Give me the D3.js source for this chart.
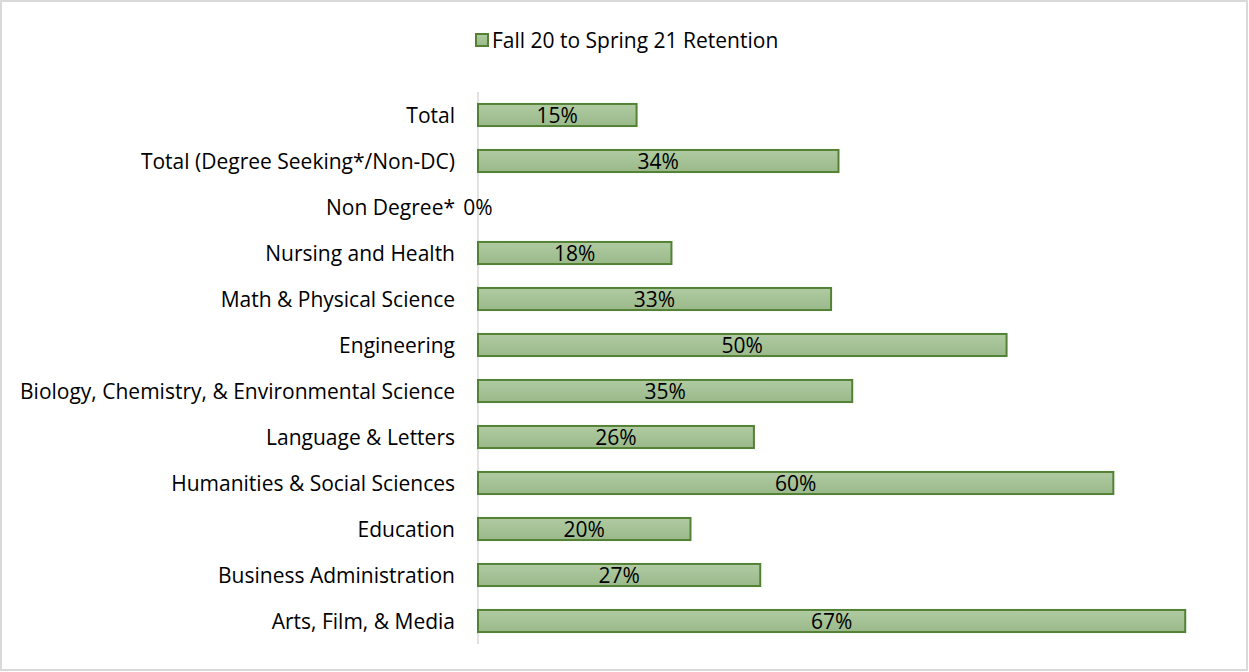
<!DOCTYPE html>
<html lang="en">
<head>
<meta charset="UTF-8">
<title>Fall 20 to Spring 21 Retention</title>
<script src="https://cdnjs.cloudflare.com/ajax/libs/d3/7.8.5/d3.min.js"></script>
<style>
    html, body { margin: 0; padding: 0; background: #fff; }
    svg { display: block; font-family: "Open Sans", sans-serif; }
</style>
</head>
<body>
<svg id="chart" width="1249" height="672"></svg>
<script>
    // categories top to bottom, as in the chart
    const categories = [
        "Total",
        "Total (Degree Seeking*/Non-DC)",
        "Non Degree*",
        "Nursing and Health",
        "Math & Physical Science",
        "Engineering",
        "Biology, Chemistry, & Environmental Science",
        "Language & Letters",
        "Humanities & Social Sciences",
        "Education",
        "Business Administration",
        "Arts, Film, & Media"
    ];
    // labels show them rounded
    const retention = [0.150, 0.341, 0, 0.183, 0.334, 0.500, 0.354, 0.261, 0.601, 0.201, 0.267, 0.669];
    const seriesName = "Fall 20 to Spring 21 Retention";

    const W = 1249, H = 672;
    const fontSize = 21;
    const svg = d3.select("#chart");

    // outer chart border
    svg.append("rect")
        .attr("x", 1).attr("y", 1)
        .attr("width", W - 3).attr("height", H - 3)
        .attr("fill", "#fff")
        .attr("stroke", "#d9d9d9")
        .attr("stroke-width", 2);

    const defs = svg.append("defs");
    const grad = defs.append("linearGradient")
        .attr("id", "barFill")
        .attr("x1", 0).attr("y1", 0).attr("x2", 0).attr("y2", 1);
    grad.append("stop").attr("offset", "0%").attr("stop-color", "#b0cba2");
    grad.append("stop").attr("offset", "100%").attr("stop-color", "#9ab98a");

    const x = d3.scaleLinear().domain([0, 0.7]).range([478, 1218]);
    const y = d3.scaleBand().domain(categories).range([92, 644]).paddingInner(0.52).paddingOuter(0.26);

    // vertical category axis line
    svg.append("line")
        .attr("x1", x(0)).attr("x2", x(0))
        .attr("y1", 92).attr("y2", 644)
        .attr("stroke", "#d9d9d9")
        .attr("stroke-width", 1.5);

    const rows = categories.map((c, i) => ({ cat: c, val: retention[i] }));

    svg.append("g")
        .selectAll("rect")
        .data(rows.filter(d => d.val > 0))
        .join("rect")
        .attr("x", x(0))
        .attr("y", d => y(d.cat))
        .attr("width", d => x(d.val) - x(0))
        .attr("height", y.bandwidth())
        .attr("fill", "url(#barFill)")
        .attr("stroke", "#548235")
        .attr("stroke-width", 2);

    // data labels
    svg.append("g")
        .selectAll("text")
        .data(rows)
        .join("text")
        .attr("x", d => (x(0) + x(d.val)) / 2)
        .attr("y", d => y(d.cat) + y.bandwidth() / 2)
        .attr("dy", "0.36em")
        .attr("text-anchor", "middle")
        .attr("font-size", fontSize)
        .attr("fill", "#000")
        .text(d => d3.format(".0%")(d.val));

    // category labels
    svg.append("g")
        .selectAll("text")
        .data(categories)
        .join("text")
        .attr("x", 455)
        .attr("y", d => y(d) + y.bandwidth() / 2)
        .attr("dy", "0.36em")
        .attr("text-anchor", "end")
        .attr("font-size", fontSize)
        .attr("fill", "#000")
        .text(d => d);

    // legend
    const legend = svg.append("g");
    legend.append("rect")
        .attr("x", 476).attr("y", 34)
        .attr("width", 12).attr("height", 12)
        .attr("fill", "url(#barFill)")
        .attr("stroke", "#548235")
        .attr("stroke-width", 2);
    legend.append("text")
        .attr("x", 492).attr("y", 40)
        .attr("dy", "0.36em")
        .attr("font-size", fontSize)
        .attr("fill", "#000")
        .text(seriesName);
</script>
</body>
</html>
